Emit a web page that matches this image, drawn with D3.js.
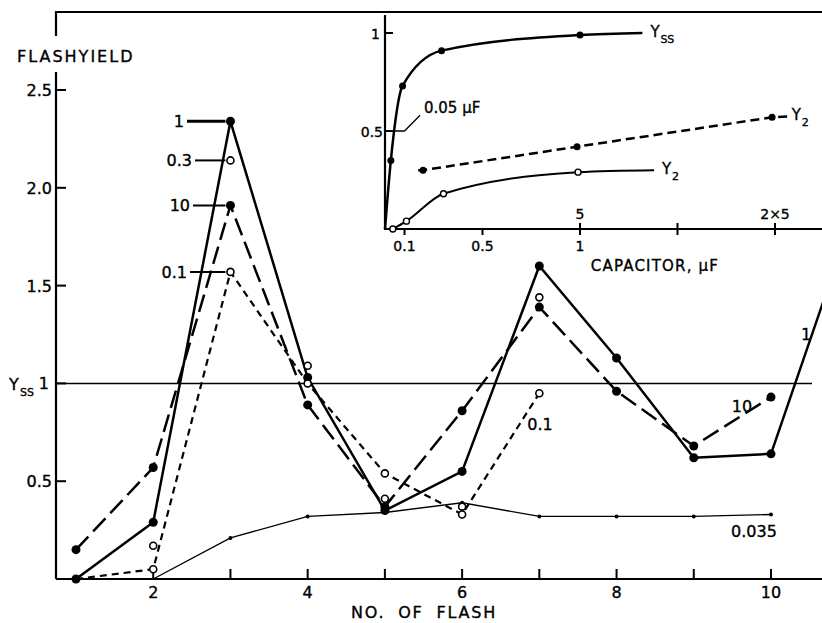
<!DOCTYPE html>
<html>
<head>
<meta charset="utf-8">
<script src="https://cdn.jsdelivr.net/npm/d3@7"></script>
<style>
  body { margin: 0; background: #fff; }
  text { font-family: "DejaVu Sans", sans-serif; fill: #000; stroke: #000; stroke-width: 0.35px; }
</style>
</head>
<body>
<svg id="svg" width="822" height="623"></svg>
<script>
(function() {

    const svg = d3.select('#svg')
    const width = 822, height = 623

    // main chart data: flash yield vs flash number, one array per capacitor
    const flashes = [1, 2, 3, 4, 5, 6, 7, 8, 9, 10, 11]
    const yield1 = [0, 0.29, 2.34, 1.03, 0.35, 0.55, 1.6, 1.13, 0.62, 0.64, 1.79]
    const yield10 = [0.15, 0.57, 1.91, 0.89, 0.37, 0.86, 1.39, 0.96, 0.68, 0.93]
    const yield03 = [null, 0.17, 2.14, 1.09, 0.41, 0.37, 1.44]
    const yield01 = [0, 0.05, 1.57, 1.0, 0.54, 0.33, 0.95]
    const yield0035 = [null, 0, 0.21, 0.32, 0.34, 0.39, 0.32, 0.32, 0.32, 0.33]
    const yTicks = [0.5, 1.5, 2.0, 2.5]
    const xTickLabels = [2, 4, 6, 8, 10]

    // inset data: yield vs capacitor
    const capYss = [0, 0.03, 0.09, 0.29, 1.0, 1.32]
    const valYss = [0, 0.35, 0.73, 0.91, 0.99, 1.0]
    const capY2 = [0.04, 0.11, 0.30, 0.99, 1.38]
    const valY2 = [0, 0.04, 0.18, 0.29, 0.30]
    const capY2b = [0.17, 0.195, 0.985, 1.985, 2.07]
    const valY2b = [0.30, 0.30, 0.42, 0.57, 0.575]
    const insetTicks = [0.1, 0.5, 1, 1.5, 2]

    const x = d3.scaleLinear().domain([1, 10]).range([76, 771])
    const y = d3.scaleLinear().domain([0, 2.5]).range([579, 90])
    const left = 56

    const pts = (arr) => arr.map((v, i) => ({f: flashes[i], v: v})).filter(d => d.v != null)
    const line = d3.line().x(d => x(d.f)).y(d => y(d.v))

    // frame
    svg.append('path')
        .attr('d', `M${left},36 V12 H${width}`)
        .style('fill', 'none').style('stroke', '#000').style('stroke-width', 2.2)
    svg.append('line')
        .attr('x1', left).attr('y1', 72).attr('x2', left).attr('y2', y(0))
        .style('stroke', '#000').style('stroke-width', 2.2)
    svg.append('line')
        .attr('x1', left).attr('y1', y(0)).attr('x2', width).attr('y2', y(0))
        .style('stroke', '#000').style('stroke-width', 2.2)

    // y ticks
    yTicks.concat([1]).forEach(t => {
        svg.append('line')
            .attr('x1', left).attr('x2', left + 10)
            .attr('y1', y(t)).attr('y2', y(t))
            .style('stroke', '#000').style('stroke-width', 2)
    })
    svg.selectAll('.ylab')
        .data(yTicks)
        .enter()
        .append('text')
            .attr('x', left - 4)
            .attr('y', d => y(d) + 6)
            .attr('text-anchor', 'end')
            .style('font-size', '16px')
            .text(d => d.toFixed(1))
    svg.append('text')
        .attr('x', 49).attr('y', y(1) + 6)
        .attr('text-anchor', 'end')
        .style('font-size', '16px')
        .text('1')

    // x ticks
    d3.range(2, 11).forEach(f => {
        svg.append('line')
            .attr('x1', x(f)).attr('x2', x(f))
            .attr('y1', y(0)).attr('y2', y(0) - 10)
            .style('stroke', '#000').style('stroke-width', 2)
    })
    svg.selectAll('.xlab')
        .data(xTickLabels)
        .enter()
        .append('text')
            .attr('x', d => x(d))
            .attr('y', y(0) + 19)
            .attr('text-anchor', 'middle')
            .style('font-size', '16px')
            .text(d => d)

    svg.append('text')
        .attr('x', 424).attr('y', 618)
        .attr('text-anchor', 'middle')
        .style('font-size', '16px')
        .style('letter-spacing', '1.8px')
        .style('word-spacing', '6px')
        .text('NO. OF FLASH')

    svg.append('text')
        .attr('x', 17).attr('y', 62)
        .style('font-size', '16px')
        .style('letter-spacing', '2px')
        .text('FLASHYIELD')

    // Y_SS label on the left
    svg.append('text').attr('x', 9).attr('y', y(1) + 7).style('font-size', '16px').text('Y')
    svg.append('text').attr('x', 20).attr('y', y(1) + 13).style('font-size', '11px').text('SS')

    // reference line at Yss = 1
    svg.append('line')
        .attr('x1', left).attr('x2', 812)
        .attr('y1', y(1)).attr('y2', y(1))
        .style('stroke', '#000').style('stroke-width', 1.5)

    // series lines
    svg.append('path')
        .datum(pts(yield0035))
        .attr('d', line)
        .style('fill', 'none').style('stroke', '#000').style('stroke-width', 1.4)
    svg.append('path')
        .datum(pts(yield01))
        .attr('d', line)
        .style('fill', 'none').style('stroke', '#000').style('stroke-width', 2.2)
        .style('stroke-dasharray', '7 5')
    svg.append('path')
        .datum(pts(yield10))
        .attr('d', line)
        .style('fill', 'none').style('stroke', '#000').style('stroke-width', 2.5)
        .style('stroke-dasharray', '18 7')
    svg.append('path')
        .datum(pts(yield1))
        .attr('d', line)
        .style('fill', 'none').style('stroke', '#000').style('stroke-width', 2.5)

    // points
    svg.selectAll('.p0035')
        .data(pts(yield0035).slice(1))
        .enter()
        .append('circle')
            .attr('cx', d => x(d.f)).attr('cy', d => y(d.v))
            .attr('r', 2)
            .attr('fill', '#000')
    svg.selectAll('.p1')
        .data(pts(yield1))
        .enter()
        .append('circle')
            .attr('cx', d => x(d.f)).attr('cy', d => y(d.v))
            .attr('r', 4.5)
            .attr('fill', '#000')
    svg.selectAll('.p10')
        .data(pts(yield10))
        .enter()
        .append('circle')
            .attr('cx', d => x(d.f)).attr('cy', d => y(d.v))
            .attr('r', 4.5)
            .attr('fill', '#000')
    svg.selectAll('.p03')
        .data(pts(yield03))
        .enter()
        .append('circle')
            .attr('cx', d => x(d.f)).attr('cy', d => y(d.v))
            .attr('r', 3.5)
            .attr('fill', '#fff').style('stroke', '#000').style('stroke-width', 1.6)
    svg.selectAll('.p01')
        .data(pts(yield01).slice(1))
        .enter()
        .append('circle')
            .attr('cx', d => x(d.f)).attr('cy', d => y(d.v))
            .attr('r', 3.5)
            .attr('fill', '#fff').style('stroke', '#000').style('stroke-width', 1.6)

    // labels at flash 3 with leaders
    const leaders = [
        {label: '1', v: yield1[2], x0: 187},
        {label: '0.3', v: yield03[2], x0: 195},
        {label: '10', v: yield10[2], x0: 193},
        {label: '0.1', v: yield01[2], x0: 190}
    ]
    leaders.forEach(d => {
        svg.append('line')
            .attr('x1', d.x0).attr('x2', x(3) - 5)
            .attr('y1', y(d.v)).attr('y2', y(d.v))
            .style('stroke', '#000').style('stroke-width', d.label == '1' ? 3 : 2)
        svg.append('text')
            .attr('x', d.x0 - 3).attr('y', y(d.v) + 6)
            .attr('text-anchor', 'end')
            .style('font-size', '16px')
            .text(d.label)
    })

    svg.append('text').attr('x', 806).attr('y', 340).attr('text-anchor', 'middle')
        .style('font-size', '16px').text('1')
    svg.append('text').attr('x', 742).attr('y', 412).attr('text-anchor', 'middle')
        .style('font-size', '16px').text('10')
    svg.append('text').attr('x', 540).attr('y', 430).attr('text-anchor', 'middle')
        .style('font-size', '16px').text('0.1')
    svg.append('text').attr('x', 754).attr('y', 537).attr('text-anchor', 'middle')
        .style('font-size', '16px').text('0.035')

    // ---------- inset ----------
    const xi = d3.scaleLinear().domain([0, 1]).range([385, 580])
    const yi = d3.scaleLinear().domain([0, 1]).range([229, 33])
    const lineI = d3.line().x(d => xi(d[0])).y(d => yi(d[1]))

    svg.append('path')
        .attr('d', `M${xi(0)},15 V${yi(0)} H${width}`)
        .style('fill', 'none').style('stroke', '#000').style('stroke-width', 2.2)

    ;[0.5, 1].forEach(t => {
        svg.append('line')
            .attr('x1', xi(0)).attr('x2', xi(0) + 8)
            .attr('y1', yi(t)).attr('y2', yi(t))
            .style('stroke', '#000').style('stroke-width', 2)
    })
    svg.append('text').attr('x', xi(0) - 5).attr('y', yi(1) + 6).attr('text-anchor', 'end')
        .style('font-size', '14px').text('1')
    svg.append('text').attr('x', xi(0) - 2).attr('y', yi(0.5) + 6).attr('text-anchor', 'end')
        .style('font-size', '14px').text('0.5')

    insetTicks.forEach(t => {
        svg.append('line')
            .attr('x1', xi(t)).attr('x2', xi(t))
            .attr('y1', yi(0) - (t >= 1 ? 6 : 0)).attr('y2', yi(0) + 6)
            .style('stroke', '#000').style('stroke-width', 2)
    })
    ;[0.1, 0.5, 1].forEach(t => {
        svg.append('text').attr('x', xi(t)).attr('y', yi(0) + 22).attr('text-anchor', 'middle')
            .style('font-size', '14px').text(t)
    })
    svg.append('text').attr('x', xi(1)).attr('y', yi(0) - 10).attr('text-anchor', 'middle')
        .style('font-size', '14px').text('5')
    svg.append('text').attr('x', xi(2)).attr('y', yi(0) - 10).attr('text-anchor', 'middle')
        .style('font-size', '14px').text('2×5')
    svg.append('text').attr('x', 655).attr('y', 271).attr('text-anchor', 'middle')
        .style('font-size', '15px').style('letter-spacing', '1.2px')
        .text('CAPACITOR, μF')

    // Yss curve
    const yssPts = capYss.map((c, i) => [c, valYss[i]])
    svg.append('path')
        .datum(yssPts)
        .attr('d', lineI.curve(d3.curveMonotoneX))
        .style('fill', 'none').style('stroke', '#000').style('stroke-width', 2.5)
    svg.selectAll('.pyss')
        .data(yssPts.slice(1, 5))
        .enter()
        .append('circle')
            .attr('cx', d => xi(d[0])).attr('cy', d => yi(d[1]))
            .attr('r', 3.5).attr('fill', '#000')

    // Y2 solid curve
    const y2Pts = capY2.map((c, i) => [c, valY2[i]])
    svg.append('path')
        .datum(y2Pts)
        .attr('d', lineI.curve(d3.curveMonotoneX))
        .style('fill', 'none').style('stroke', '#000').style('stroke-width', 2)
    svg.selectAll('.py2')
        .data(y2Pts.slice(0, 4))
        .enter()
        .append('circle')
            .attr('cx', d => xi(d[0])).attr('cy', d => yi(d[1]))
            .attr('r', 3).attr('fill', '#fff').style('stroke', '#000').style('stroke-width', 1.4)

    // Y2 dashed line
    const y2bPts = capY2b.map((c, i) => [c, valY2b[i]])
    svg.append('path')
        .datum(y2bPts)
        .attr('d', lineI.curve(d3.curveLinear))
        .style('fill', 'none').style('stroke', '#000').style('stroke-width', 2.5)
        .style('stroke-dasharray', '9 5')
    svg.selectAll('.py2b')
        .data(y2bPts.slice(1, 4))
        .enter()
        .append('circle')
            .attr('cx', d => xi(d[0])).attr('cy', d => yi(d[1]))
            .attr('r', 3.5).attr('fill', '#000')

    // curve labels (Y with a subscript as two texts)
    const lab = (tx, ty, sub) => {
        svg.append('text').attr('x', tx).attr('y', ty).style('font-size', '15px').text('Y')
        svg.append('text').attr('x', tx + 10).attr('y', ty + 6).style('font-size', '11px').text(sub)
    }
    lab(xi(1.32) + 8, yi(1.0) + 4, 'SS')
    lab(xi(1.38) + 8, yi(0.30) + 4, '2')
    lab(xi(2.07) + 3, yi(0.575) + 4, '2')

    // 0.05 uF leader
    svg.append('path')
        .attr('d', `M${xi(0)},${yi(0.5)} H${xi(0.1)} L${xi(0.18)},${yi(0.58)}`)
        .style('fill', 'none').style('stroke', '#000').style('stroke-width', 1.3)
    svg.append('text').attr('x', 424).attr('y', 113)
        .style('font-size', '15px').text('0.05 μF')

})();
</script>
</body>
</html>
